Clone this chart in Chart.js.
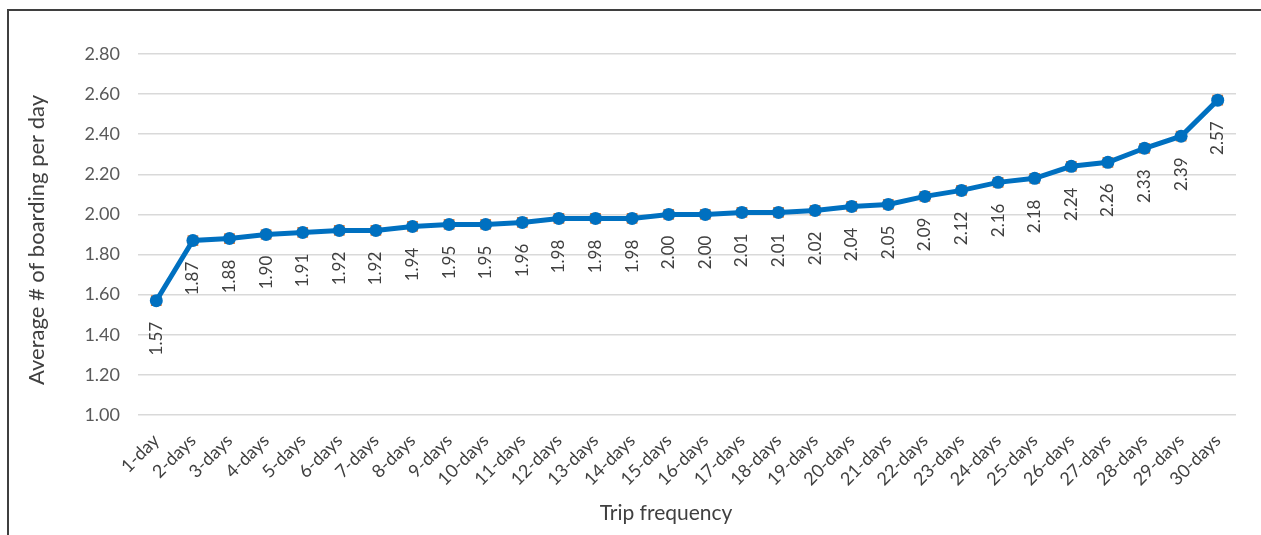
<!DOCTYPE html>
<html>
<head>
<meta charset="utf-8">
<script src="https://cdn.jsdelivr.net/npm/chart.js@4.4.1/dist/chart.umd.min.js"></script>
<style>
  html, body { margin: 0; padding: 0; background: #ffffff; }
  #wrap { position: relative; width: 1261px; height: 535px; }
</style>
</head>
<body>
<div id="wrap"><canvas id="chart" width="1261" height="535"></canvas></div>
<script>
// Trip frequency categories and the average boardings per day for each
const categories = [
  '1-day', '2-days', '3-days', '4-days', '5-days', '6-days', '7-days', '8-days', '9-days', '10-days',
  '11-days', '12-days', '13-days', '14-days', '15-days', '16-days', '17-days', '18-days', '19-days', '20-days',
  '21-days', '22-days', '23-days', '24-days', '25-days', '26-days', '27-days', '28-days', '29-days', '30-days'
];
const avgBoardings = [
  1.57, 1.87, 1.88, 1.90, 1.91, 1.92, 1.92, 1.94, 1.95, 1.95,
  1.96, 1.98, 1.98, 1.98, 2.00, 2.00, 2.01, 2.01, 2.02, 2.04,
  2.05, 2.09, 2.12, 2.16, 2.18, 2.24, 2.26, 2.33, 2.39, 2.57
];
const yTicks = [1.00, 1.20, 1.40, 1.60, 1.80, 2.00, 2.20, 2.40, 2.60, 2.80];

const xTitle = 'Trip frequency';
const yTitle = 'Average # of boarding per day';

const FONT = 'Lato, "Open Sans", sans-serif';
const BLUE = '#0070C0';
const ORANGE = '#ED7D31';

// Frame lines, axis titles and the rotated value labels under each point
const decorations = {
  id: 'decorations',
  beforeDraw(chart) {
    const ctx = chart.ctx;
    ctx.save();
    ctx.fillStyle = '#ffffff';
    ctx.fillRect(0, 0, chart.width, chart.height);
    ctx.strokeStyle = '#3f3f3f';
    ctx.lineWidth = 2;
    ctx.beginPath();
    ctx.moveTo(8, chart.height);
    ctx.lineTo(8, 10);
    ctx.lineTo(chart.width, 10);
    ctx.stroke();
    ctx.restore();
  },
  afterDraw(chart) {
    const ctx = chart.ctx;
    ctx.save();
    ctx.fillStyle = '#404040';
    ctx.textAlign = 'center';
    ctx.textBaseline = 'middle';
    ctx.font = '21px ' + FONT;
    ctx.fillText(xTitle, 666, 513);
    ctx.font = '22px ' + FONT;
    ctx.translate(37, 240);
    ctx.rotate(-Math.PI / 2);
    ctx.fillText(yTitle, 0, 0);
    ctx.restore();

    const meta = chart.getDatasetMeta(1);
    ctx.save();
    ctx.fillStyle = '#404040';
    ctx.font = '17px ' + FONT;
    ctx.textAlign = 'center';
    ctx.textBaseline = 'middle';
    meta.data.forEach((pt, i) => {
      ctx.save();
      ctx.translate(pt.x, pt.y + 38);
      ctx.rotate(-Math.PI / 2);
      ctx.fillText(avgBoardings[i].toFixed(2), 0, 0);
      ctx.restore();
    });
    ctx.restore();
  }
};

new Chart(document.getElementById('chart'), {
  type: 'line',
  data: {
    labels: categories,
    datasets: [
      {
        label: 'marker edge',
        data: avgBoardings,
        showLine: false,
        pointStyle: 'rect',
        pointRadius: 7.6,
        pointBackgroundColor: ORANGE,
        pointBorderWidth: 0,
        order: 2
      },
      {
        label: yTitle,
        data: avgBoardings,
        borderColor: BLUE,
        borderWidth: 5,
        pointStyle: 'circle',
        pointRadius: 6.5,
        pointBackgroundColor: BLUE,
        pointBorderColor: BLUE,
        pointBorderWidth: 0,
        tension: 0,
        order: 1
      }
    ]
  },
  options: {
    responsive: false,
    animation: false,
    layout: { padding: { top: 54, right: 25, bottom: 0, left: 0 } },
    plugins: {
      legend: { display: false },
      tooltip: { enabled: false }
    },
    scales: {
      x: {
        offset: true,
        grid: { display: false, drawTicks: false },
        border: { display: false },
        ticks: {
          color: '#404040',
          font: { family: FONT, size: 18 },
          minRotation: 45,
          maxRotation: 45,
          autoSkip: false,
          padding: 15
        },
        afterFit(scale) { scale.height = 120; }
      },
      y: {
        min: 1.0,
        max: 2.8,
        grid: { color: '#d9d9d9', lineWidth: 1.5, drawTicks: false },
        border: { display: false },
        afterBuildTicks(scale) { scale.ticks = yTicks.map(v => ({ value: v })); },
        ticks: {
          color: '#595959',
          font: { family: FONT, size: 18 },
          padding: 18,
          callback: v => Number(v).toFixed(2)
        },
        afterFit(scale) { scale.width = 138; }
      }
    }
  },
  plugins: [decorations]
});
</script>
</body>
</html>
